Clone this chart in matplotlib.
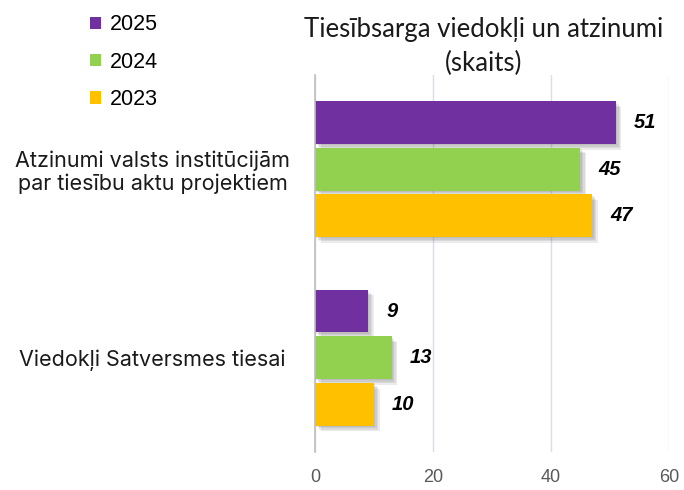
'''
Horizontal bar chart of ombudsman opinions and statements
'''
import matplotlib
matplotlib.use("Agg")
import matplotlib.pyplot as plt
import matplotlib.patheffects as pe
from matplotlib.patches import Patch
import numpy as np

# chart data
categories = ["Atzinumi valsts institūcijām\npar tiesību aktu projektiem",
              "Viedokļi Satversmes tiesai"]
years = ["2025", "2024", "2023"]
values_2025 = [51, 9]
values_2024 = [45, 13]
values_2023 = [47, 10]
x_ticks = [0, 20, 40, 60]
title_text = "Tiesībsarga viedokļi un atzinumi\n(skaits)"

colors = ["#7030A0", "#92D050", "#FFC000"]


def plot_bars(ax):
    """
    Draw the grouped bars with a soft drop shadow and value labels
    :param ax: axes to draw in
    :return: nothing
    """
    y = np.arange(len(categories))
    offsets = [-0.247, 0.0, 0.247]     # 2025 on top, 2023 at bottom
    # a few faint shadows stacked to fake a blurred drop shadow
    shadow = [pe.SimplePatchShadow(offset=(o, -o), shadow_rgbFace="#606060", alpha=0.12)
              for o in (1, 2, 3, 4)] + [pe.Normal()]
    for series, off, col in zip([values_2025, values_2024, values_2023], offsets, colors):
        bars = ax.barh(y + off, series, height=0.226, color=col, zorder=3)
        for bar in bars:
            bar.set_path_effects(shadow)
        for yy, val in zip(y + off, series):
            ax.annotate(str(val), xy=(val, yy), xytext=(13, 0), textcoords="offset points",
                        ha="left", va="center", fontsize=14.5, fontweight="bold",
                        fontstyle="italic", family="Liberation Sans", color="black")


def main():
    """
    Main function
    :return: Nothing
    """
    fig = plt.figure(figsize=(6.84, 4.90), dpi=100)
    ax = fig.add_axes([0.4605, 0.0776, 0.5175, 0.7694])

    plot_bars(ax)

    ax.set_xlim(0, 60)
    ax.set_ylim(1.5, -0.5)
    ax.set_xticks(x_ticks)
    ax.set_xticklabels([str(t) for t in x_ticks], family="Liberation Sans",
                       fontsize=13, color="#595959")
    ax.set_yticks(np.arange(len(categories)))
    ax.set_yticklabels(categories, family="Inter", fontsize=15.5, color="#1a1a1a",
                       linespacing=1.15)
    for lab in ax.get_yticklabels():
        lab.set_horizontalalignment("center")
        lab.set_multialignment("center")
    ax.tick_params(axis="y", length=0, pad=117)
    ax.tick_params(axis="x", length=0, pad=12)

    ax.grid(axis="x", color="#DADAF0", linewidth=1, zorder=0)
    for side in ["top", "right", "bottom"]:
        ax.spines[side].set_visible(False)
    ax.spines["left"].set_color("#BFBFBF")
    ax.spines["left"].set_linewidth(1.2)
    ax.spines["left"].set_zorder(4)

    fig.text(0.707, 0.966, title_text, ha="center", va="top", family="Lato",
             fontsize=18.5, color="#1a1a1a", linespacing=1.45)

    handles = [Patch(facecolor=c, edgecolor="none") for c in colors]
    fig.legend(handles, years, loc="upper left", bbox_to_anchor=(0.103, 1.01),
               frameon=False, prop={"family": "Liberation Sans", "size": 15.5},
               handlelength=0.5, handleheight=0.5, handletextpad=0.45,
               labelspacing=0.76)

    fig.savefig("out.png", dpi=100)


if __name__ == '__main__':
    main()
